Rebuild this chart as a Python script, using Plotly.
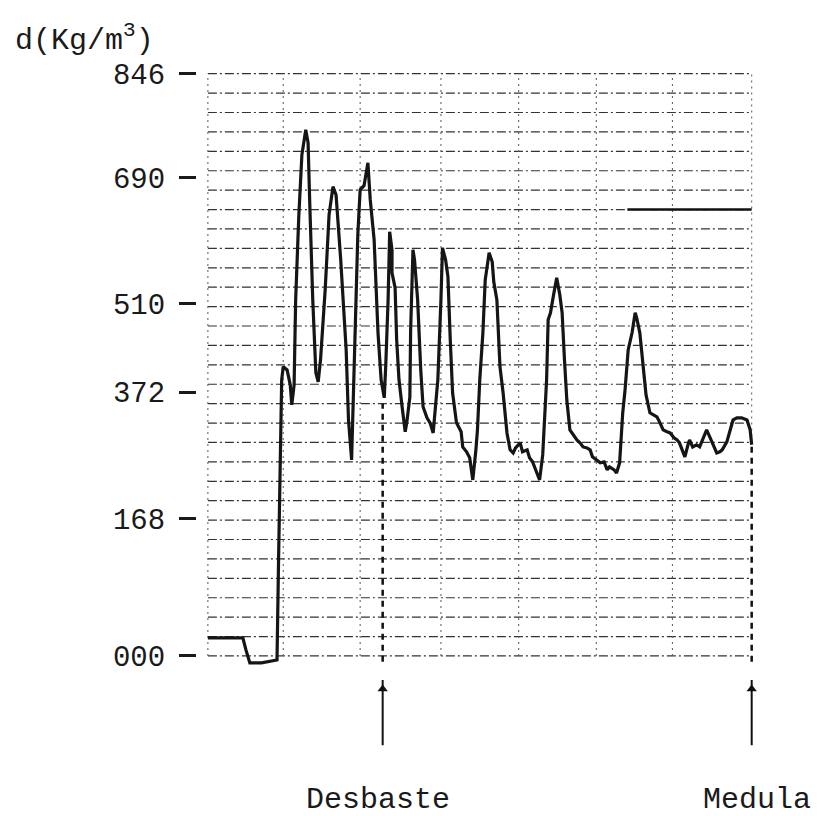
import plotly.graph_objects as go

# Densitometer trace (x: chart divisions, y: chart divisions)
pos = [0.00, 0.45, 0.49, 0.54, 0.69, 0.89, 0.91, 0.94, 0.95, 0.97, 1.02, 1.06, 1.08, 1.11,
       1.13, 1.17, 1.21, 1.26, 1.29, 1.31, 1.35, 1.39, 1.42, 1.45, 1.51, 1.56, 1.61, 1.65,
       1.71, 1.78, 1.81, 1.85, 1.89, 1.93, 1.96, 2.01, 2.06, 2.09, 2.14, 2.19, 2.23, 2.27,
       2.29, 2.32, 2.34, 2.37, 2.37, 2.41, 2.43, 2.46, 2.50, 2.54, 2.56, 2.60, 2.61, 2.64,
       2.66, 2.70, 2.74, 2.77, 2.82, 2.86, 2.90, 2.93, 2.96, 3.00, 3.02, 3.06, 3.09, 3.12,
       3.15, 3.20, 3.26, 3.28, 3.33, 3.37, 3.41, 3.45, 3.47, 3.50, 3.54, 3.57, 3.62, 3.66,
       3.68, 3.72, 3.76, 3.80, 3.85, 3.89, 3.93, 3.96, 4.02, 4.05, 4.11, 4.14, 4.18, 4.23,
       4.27, 4.31, 4.34, 4.36, 4.38, 4.41, 4.45, 4.49, 4.53, 4.56, 4.59, 4.62, 4.66, 4.71,
       4.75, 4.79, 4.83, 4.88, 4.92, 4.95, 5.01, 5.05, 5.10, 5.14, 5.17, 5.23, 5.26, 5.30,
       5.34, 5.37, 5.41, 5.46, 5.50, 5.52, 5.56, 5.60, 5.64, 5.69, 5.73, 5.78, 5.82, 5.86,
       5.91, 5.95, 6.00, 6.04, 6.07, 6.11, 6.14, 6.18, 6.20, 6.24, 6.29, 6.33, 6.37, 6.42,
       6.46, 6.50, 6.55, 6.59, 6.62, 6.68, 6.72, 6.76, 6.81, 6.87, 6.94, 6.98, 7.00]
dens = [0.93, 0.93, 0.31, -0.36, -0.36, -0.21, 4.95, 10.62, 14.23, 14.90, 14.74, 13.97, 12.94, 13.97,
        18.35, 22.63, 25.82, 27.11, 26.44, 23.51, 18.35, 14.59, 14.12, 15.26, 18.87, 22.73, 24.18, 23.76,
        20.41, 15.77, 12.16, 10.10, 16.29, 21.70, 24.02, 24.23, 25.41, 23.51, 21.44, 16.65, 14.23, 13.30,
        15.00, 18.35, 21.86, 20.93, 19.74, 18.97, 16.29, 14.23, 12.84, 11.55, 12.01, 13.35, 16.80, 20.93,
        20.41, 18.35, 14.74, 12.84, 12.27, 12.01, 11.49, 12.68, 14.23, 18.35, 21.03, 20.41, 19.54, 16.29,
        13.56, 12.01, 11.55, 10.77, 10.52, 10.21, 9.07, 10.62, 11.65, 14.23, 16.65, 19.38, 20.77, 20.31,
        19.28, 18.35, 14.90, 13.56, 11.49, 10.62, 10.46, 10.72, 10.98, 10.52, 10.62, 10.21, 10.00, 9.48,
        9.07, 10.36, 12.53, 14.23, 17.32, 17.68, 18.61, 19.48, 18.61, 17.68, 15.26, 13.20, 11.65, 11.34,
        11.13, 10.98, 10.77, 10.72, 10.62, 10.26, 10.10, 9.95, 10.00, 9.59, 9.74, 9.59, 9.43, 9.95,
        12.53, 13.71, 15.77, 16.65, 17.68, 17.42, 16.65, 14.90, 13.45, 12.53, 12.42, 12.32, 12.01, 11.65,
        11.55, 11.49, 11.24, 11.13, 10.98, 10.52, 10.26, 10.88, 11.13, 10.77, 10.88, 10.77, 11.13, 11.65,
        11.29, 10.88, 10.46, 10.52, 10.62, 11.03, 11.65, 12.16, 12.27, 12.27, 12.16, 11.65, 10.88]

# Density scale of the chart (kg/m3) and where each label sits on the paper
tick_text = ["000", "168", "372", "510", "690", "846"]
tick_vals = [0.0, 7.06, 13.6, 18.14, 24.64, 30.0]

# Chart paper rulings
grid_rows = list(range(0, 31))
grid_cols = [0.0, 0.97, 1.96, 3.0, 4.0, 5.0, 5.98]
paper_end = 7.0

marker_names = ["Desbaste", "Medula"]
marker_pos = [2.25, 7.0]
label_pos = [2.19, 7.07]

FONT = "Liberation Mono"

fig = go.Figure()
shapes = []

for r in grid_rows:
    shapes.append(dict(type="line", xref="x", yref="y", x0=0, x1=paper_end, y0=r, y1=r,
                       line=dict(color="#333333", width=1.2, dash="9px,3px,2px,3px"), layer="below"))
for c in grid_cols:
    shapes.append(dict(type="line", xref="x", yref="y", x0=c, x1=c, y0=0, y1=grid_rows[-1],
                       line=dict(color="#666666", width=1.1, dash="2px,4px"), layer="below"))
# right edge: dotted on top, heavy dashed lower part
shapes.append(dict(type="line", xref="x", yref="y", x0=paper_end, x1=paper_end, y0=11, y1=grid_rows[-1],
                   line=dict(color="#666666", width=1.1, dash="2px,4px"), layer="below"))
# bold ruled segment on the right
shapes.append(dict(type="line", xref="x", yref="y", x0=5.4, x1=paper_end, y0=23, y1=23,
                   line=dict(color="#111111", width=2.5), layer="below"))

# Desbaste / Medula markers: heavy dashed line in the paper + arrow below it
for m, top in zip(marker_pos, [13.0, 11.0]):
    shapes.append(dict(type="line", xref="x", yref="y", x0=m, x1=m, y0=-0.3, y1=top,
                       line=dict(color="#111111", width=2.5, dash="6px,5px"), layer="below"))
    shapes.append(dict(type="line", xref="x", yref="y", x0=m, x1=m, y0=-1.24, y1=-4.6,
                       line=dict(color="#111111", width=2)))

fig.add_trace(go.Scatter(x=marker_pos, y=[-1.7, -1.7], mode="markers",
                         marker=dict(symbol="triangle-up", size=9, color="#111111"),
                         hoverinfo="skip", showlegend=False))

fig.add_trace(go.Scatter(x=pos, y=dens, mode="lines",
                         line=dict(color="#151515", width=3.2, shape="linear"),
                         showlegend=False, cliponaxis=False))

annotations = [
    dict(text="d(Kg/m<sup>3</sup>)", xref="paper", yref="paper", x=0, y=1,
         xanchor="left", yanchor="bottom", xshift=-184, yshift=4, showarrow=False,
         font=dict(family=FONT, size=30, color="#1a1a1a")),
]
for name, lp in zip(marker_names, label_pos):
    annotations.append(dict(text=name, xref="x", yref="paper", x=lp, y=0,
                            xanchor="center", yanchor="middle", yshift=-47, showarrow=False,
                            font=dict(family=FONT, size=30, color="#1a1a1a")))

fig.update_layout(
    width=820, height=816, autosize=False,
    margin=dict(l=197, r=45, t=64, b=63, pad=0),
    paper_bgcolor="white", plot_bgcolor="white",
    shapes=shapes, annotations=annotations,
    xaxis=dict(range=[-0.14, 7.3], showgrid=False, zeroline=False, showline=False,
               showticklabels=False, ticks=""),
    yaxis=dict(range=[-5, 30.5], showgrid=False, zeroline=False, showline=False,
               tickmode="array", tickvals=tick_vals, ticktext=tick_text,
               ticks="outside", ticklen=17, tickwidth=3, tickcolor="#1a1a1a",
               ticklabelstandoff=8,
               tickfont=dict(family=FONT, size=29, color="#1a1a1a")),
)

fig.write_html("out.html")
